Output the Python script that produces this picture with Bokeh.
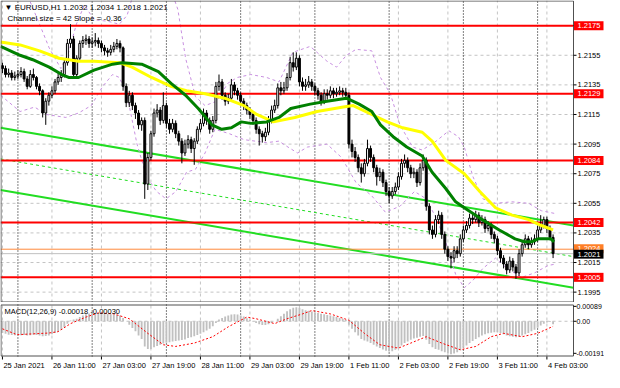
from bokeh.plotting import figure
from bokeh.layouts import column
from bokeh.models import Range1d, Label
from bokeh.core.properties import value
from bokeh.embed import file_html
from bokeh.resources import INLINE

FONT = "Liberation Sans"

title_text = "\u25BC EURUSD,H1  1.2032 1.2034 1.2018 1.2021"
channel_text = "Channel size = 42 Slope = -0.36"
macd_text = "MACD(12,26,9) -0.00018 -0.00030"

time_ticks = [0, 16, 32, 48, 64, 80, 96, 112, 128, 144, 160, 176]
time_labels = ["25 Jan 2021", "26 Jan 11:00", "27 Jan 03:00", "27 Jan 19:00", "28 Jan 11:00",
               "29 Jan 03:00", "29 Jan 19:00", "1 Feb 11:00", "2 Feb 03:00", "2 Feb 19:00",
               "3 Feb 11:00", "4 Feb 03:00"]
day_separators = [5, 29, 53, 77, 101, 125, 149, 173]
price_ticks = [1.1995, 1.2015, 1.2035, 1.2055, 1.2075, 1.2095, 1.2115, 1.2135, 1.2155, 1.2175]
macd_ticks = [-0.00191, 0.0, 0.00089]
macd_tick_labels = ["-0.00191", "0.00", "0.00089"]

red_levels = [1.2175, 1.2129, 1.2084, 1.2042, 1.2005]
orange_level = 1.2024
bid_level = 1.2021

first_open = 1.2148
close = [1.2146, 1.2142, 1.2143, 1.2140, 1.2141, 1.2142, 1.2144, 1.2139, 1.2134, 1.2142,
         1.2140, 1.2134, 1.2131, 1.2116, 1.2124, 1.2128, 1.2131, 1.2137, 1.2140, 1.2142,
         1.2150, 1.2163, 1.2166, 1.2142, 1.2153, 1.2163, 1.2165, 1.2166, 1.2163, 1.2164,
         1.2165, 1.2163, 1.2160, 1.2158, 1.2157, 1.2159, 1.2161, 1.2163, 1.2160, 1.2134,
         1.2123, 1.2128, 1.2121, 1.2116, 1.2108, 1.2111, 1.2068, 1.2086, 1.2102, 1.2116,
         1.2118, 1.2111, 1.2121, 1.2109, 1.2105, 1.2109, 1.2102, 1.2097, 1.2089, 1.2095,
         1.2098, 1.2092, 1.2097, 1.2105, 1.2109, 1.2116, 1.2111, 1.2105, 1.2111, 1.2134,
         1.2137, 1.2128, 1.2124, 1.2126, 1.2135, 1.2131, 1.2128, 1.2124, 1.2121, 1.2118,
         1.2115, 1.2111, 1.2105, 1.2102, 1.2100, 1.2103, 1.2111, 1.2118, 1.2121, 1.2133,
         1.2131, 1.2133, 1.2140, 1.2150, 1.2147, 1.2153, 1.2137, 1.2134, 1.2135, 1.2137,
         1.2134, 1.2131, 1.2128, 1.2124, 1.2129, 1.2128, 1.2131, 1.2129, 1.2130, 1.2131,
         1.2130, 1.2128, 1.2095, 1.2090, 1.2086, 1.2079, 1.2075, 1.2082, 1.2092, 1.2086,
         1.2079, 1.2073, 1.2076, 1.2069, 1.2063, 1.2060, 1.2063, 1.2066, 1.2073, 1.2082,
         1.2084, 1.2079, 1.2075, 1.2076, 1.2069, 1.2079, 1.2084, 1.2053, 1.2037, 1.2034,
         1.2044, 1.2047, 1.2034, 1.2024, 1.2019, 1.2018, 1.2023, 1.2021, 1.2031, 1.2037,
         1.2040, 1.2045, 1.2044, 1.2047, 1.2042, 1.2044, 1.2038, 1.2040, 1.2034, 1.2031,
         1.2023, 1.2018, 1.2014, 1.2010, 1.2016, 1.2012, 1.2008, 1.2021, 1.2027, 1.2031,
         1.2027, 1.2029, 1.2031, 1.2037, 1.2040, 1.2044, 1.2038, 1.2032, 1.2021]
high = [1.2150, 1.2148, 1.2146, 1.2145, 1.2144, 1.2145, 1.2147, 1.2146, 1.2141, 1.2145,
        1.2146, 1.2141, 1.2136, 1.2132, 1.2126, 1.2130, 1.2134, 1.2139, 1.2143, 1.2145,
        1.2153, 1.2166, 1.2176, 1.2168, 1.2155, 1.2165, 1.2168, 1.2169, 1.2168, 1.2167,
        1.2170, 1.2167, 1.2165, 1.2162, 1.2160, 1.2162, 1.2164, 1.2166, 1.2165, 1.2161,
        1.2136, 1.2131, 1.2130, 1.2123, 1.2118, 1.2113, 1.2113, 1.2089, 1.2104, 1.2119,
        1.2122, 1.2120, 1.2130, 1.2123, 1.2112, 1.2112, 1.2111, 1.2104, 1.2099, 1.2098,
        1.2101, 1.2100, 1.2099, 1.2107, 1.2112, 1.2119, 1.2118, 1.2113, 1.2114, 1.2137,
        1.2142, 1.2139, 1.2130, 1.2129, 1.2139, 1.2137, 1.2133, 1.2130, 1.2126, 1.2123,
        1.2120, 1.2117, 1.2113, 1.2107, 1.2104, 1.2106, 1.2114, 1.2121, 1.2125, 1.2136,
        1.2137, 1.2137, 1.2143, 1.2154, 1.2157, 1.2157, 1.2155, 1.2140, 1.2139, 1.2141,
        1.2139, 1.2136, 1.2133, 1.2130, 1.2132, 1.2132, 1.2134, 1.2133, 1.2133, 1.2134,
        1.2133, 1.2133, 1.2130, 1.2098, 1.2093, 1.2088, 1.2082, 1.2085, 1.2098, 1.2094,
        1.2088, 1.2081, 1.2079, 1.2078, 1.2071, 1.2066, 1.2066, 1.2069, 1.2076, 1.2085,
        1.2088, 1.2086, 1.2081, 1.2079, 1.2078, 1.2082, 1.2088, 1.2086, 1.2055, 1.2040,
        1.2047, 1.2050, 1.2049, 1.2036, 1.2026, 1.2022, 1.2026, 1.2026, 1.2034, 1.2040,
        1.2043, 1.2048, 1.2048, 1.2050, 1.2049, 1.2047, 1.2046, 1.2043, 1.2042, 1.2036,
        1.2033, 1.2025, 1.2020, 1.2016, 1.2019, 1.2018, 1.2014, 1.2024, 1.2030, 1.2034,
        1.2033, 1.2032, 1.2034, 1.2040, 1.2047, 1.2046, 1.2046, 1.2040, 1.2034]
low = [1.2143, 1.2140, 1.2140, 1.2138, 1.2138, 1.2139, 1.2140, 1.2137, 1.2132, 1.2133,
       1.2138, 1.2132, 1.2128, 1.2113, 1.2108, 1.2121, 1.2126, 1.2129, 1.2135, 1.2137,
       1.2140, 1.2148, 1.2160, 1.2140, 1.2140, 1.2151, 1.2160, 1.2162, 1.2160, 1.2160,
       1.2161, 1.2160, 1.2157, 1.2155, 1.2154, 1.2155, 1.2157, 1.2159, 1.2157, 1.2131,
       1.2120, 1.2120, 1.2118, 1.2112, 1.2105, 1.2104, 1.2058, 1.2064, 1.2084, 1.2100,
       1.2113, 1.2108, 1.2109, 1.2106, 1.2102, 1.2103, 1.2099, 1.2094, 1.2082, 1.2087,
       1.2092, 1.2089, 1.2081, 1.2095, 1.2103, 1.2107, 1.2108, 1.2102, 1.2103, 1.2109,
       1.2131, 1.2125, 1.2121, 1.2122, 1.2124, 1.2128, 1.2125, 1.2121, 1.2118, 1.2115,
       1.2112, 1.2108, 1.2102, 1.2094, 1.2096, 1.2097, 1.2101, 1.2109, 1.2116, 1.2119,
       1.2128, 1.2129, 1.2131, 1.2138, 1.2144, 1.2145, 1.2134, 1.2131, 1.2131, 1.2133,
       1.2131, 1.2128, 1.2125, 1.2121, 1.2122, 1.2125, 1.2126, 1.2126, 1.2127, 1.2128,
       1.2127, 1.2125, 1.2092, 1.2086, 1.2083, 1.2076, 1.2069, 1.2073, 1.2080, 1.2083,
       1.2076, 1.2067, 1.2070, 1.2066, 1.2060, 1.2055, 1.2058, 1.2061, 1.2064, 1.2071,
       1.2079, 1.2076, 1.2072, 1.2072, 1.2066, 1.2067, 1.2077, 1.2050, 1.2034, 1.2031,
       1.2032, 1.2041, 1.2031, 1.2021, 1.2016, 1.2011, 1.2015, 1.2018, 1.2019, 1.2029,
       1.2035, 1.2038, 1.2041, 1.2042, 1.2039, 1.2040, 1.2035, 1.2036, 1.2031, 1.2028,
       1.2020, 1.2015, 1.2011, 1.2007, 1.2008, 1.2009, 1.2004, 1.2006, 1.2019, 1.2025,
       1.2024, 1.2025, 1.2027, 1.2029, 1.2035, 1.2038, 1.2035, 1.2030, 1.2018]

yellow_x = [-0.6, 5.7, 12.0, 18.3, 24.6, 29.6, 37.8, 41.9, 48.2, 54.5, 59.5, 65.5, 71.8, 78.1, 82.2,
            87.6, 94.5, 101.7, 110.2, 113.4, 119.4, 124.4, 129.4, 135.7, 138.9, 143.3, 149.3, 154.3,
            159.4, 164.7, 170.1, 174.2, 178.0]
yellow_y = [1.2164, 1.2162, 1.2158, 1.2153, 1.2151, 1.2151, 1.2150, 1.2147, 1.2140, 1.2134, 1.2131,
            1.2129, 1.2126, 1.2121, 1.2115, 1.2110, 1.2113, 1.2117, 1.2120, 1.2121, 1.2115, 1.2110,
            1.2106, 1.2103, 1.2097, 1.2084, 1.2075, 1.2063, 1.2052, 1.2047, 1.2044, 1.2040, 1.2037]

green_x = [-0.6, 5.7, 9.8, 15.1, 19.2, 21.4, 24.6, 29.6, 35.6, 38.7, 45.0, 50.4, 54.5, 59.2, 63.3,
           67.7, 70.9, 74.0, 77.2, 80.3, 85.4, 89.4, 93.2, 99.5, 104.9, 111.2, 115.3, 119.4, 122.2,
           126.3, 130.7, 135.7, 138.9, 143.3, 146.5, 149.3, 154.3, 160.6, 165.7, 168.8, 171.0, 173.2,
           177.3, 178.3]
green_y = [1.2161, 1.2155, 1.2152, 1.2147, 1.2142, 1.2140, 1.2140, 1.2145, 1.2149, 1.2150, 1.2149,
           1.2144, 1.2136, 1.2128, 1.2119, 1.2108, 1.2105, 1.2106, 1.2110, 1.2109, 1.2110, 1.2113,
           1.2119, 1.2122, 1.2124, 1.2126, 1.2122, 1.2117, 1.2108, 1.2100, 1.2093, 1.2087, 1.2076,
           1.2065, 1.2056, 1.2052, 1.2045, 1.2037, 1.2031, 1.2029, 1.2029, 1.2031, 1.2031, 1.2029]

band_up_x = [-0.6, 4.1, 8.8, 12.0, 15.1, 18.9, 21.4, 23.9, 26.5, 29.6, 34.0, 37.8, 40.3, 43.5, 49.8,
             54.5, 56.7, 59.2, 62.4, 65.5, 69.3, 72.8, 75.9, 80.3, 85.4, 89.4, 93.9, 99.5, 104.9,
             108.0, 111.2, 114.3, 119.4, 122.2, 125.4, 128.5, 132.6, 135.7, 140.2, 144.3, 147.4,
             149.3, 152.1, 155.3, 159.4, 164.7, 170.1, 174.2, 178.9]
band_up_y = [1.2231, 1.2212, 1.2192, 1.2176, 1.2160, 1.2146, 1.2157, 1.2176, 1.2189, 1.2179, 1.2178,
             1.2176, 1.2182, 1.2205, 1.2224, 1.2199, 1.2186, 1.2153, 1.2127, 1.2121, 1.2124, 1.2136,
             1.2140, 1.2142, 1.2140, 1.2137, 1.2157, 1.2161, 1.2151, 1.2147, 1.2155, 1.2159, 1.2158,
             1.2140, 1.2129, 1.2108, 1.2093, 1.2091, 1.2097, 1.2104, 1.2100, 1.2093, 1.2073, 1.2058,
             1.2055, 1.2056, 1.2055, 1.2050, 1.2048]
band_lo_x = [-0.6, 5.7, 10.4, 14.2, 20.5, 24.6, 28.7, 32.4, 35.6, 37.8, 40.3, 43.5, 46.6, 49.8,
             52.9, 56.1, 59.5, 62.4, 65.5, 68.7, 73.4, 78.1, 85.4, 89.4, 92.3, 95.4, 98.6, 104.9,
             109.6, 114.3, 119.4, 123.8, 128.5, 133.2, 137.0, 140.2, 143.3, 146.5, 149.3, 152.1,
             155.3, 159.4, 163.1, 167.9, 172.0, 176.4, 178.9]
band_lo_y = [1.2128, 1.2117, 1.2120, 1.2115, 1.2113, 1.2116, 1.2121, 1.2134, 1.2142, 1.2140, 1.2128,
             1.2095, 1.2073, 1.2063, 1.2058, 1.2063, 1.2076, 1.2078, 1.2089, 1.2105, 1.2102, 1.2098,
             1.2096, 1.2097, 1.2093, 1.2089, 1.2093, 1.2095, 1.2086, 1.2069, 1.2060, 1.2049, 1.2053,
             1.2063, 1.2058, 1.2045, 1.2029, 1.2007, 1.1998, 1.2003, 1.2011, 1.2018, 1.2011, 1.2005,
             1.2008, 1.2013, 1.2014]

channel_x = [-0.63, 184.6]
channel_upper = [1.2106, 1.2040]
channel_mid = [1.2085, 1.2019]
channel_lower = [1.2064, 1.1998]

macd_hist = [-0.00070, -0.00075, -0.00080, -0.00082, -0.00084, -0.00085, -0.00084, -0.00082, -0.00085, -0.00083,
             -0.00080, -0.00082, -0.00085, -0.00090, -0.00088, -0.00085, -0.00078, -0.00070, -0.00060, -0.00050,
             -0.00035, -0.00015, 0.00005, 0.00010, 0.00015, 0.00025, 0.00035, 0.00042, 0.00046, 0.00048,
             0.00050, 0.00050, 0.00048, 0.00046, 0.00044, 0.00042, 0.00040, 0.00038, 0.00035, 0.00020,
             0.00000, -0.00020, -0.00040, -0.00060, -0.00085, -0.00105, -0.00150, -0.00165, -0.00165, -0.00155,
             -0.00148, -0.00140, -0.00132, -0.00128, -0.00125, -0.00120, -0.00118, -0.00115, -0.00112, -0.00108,
             -0.00100, -0.00095, -0.00090, -0.00082, -0.00075, -0.00065, -0.00055, -0.00045, -0.00030, -0.00010,
             0.00010, 0.00020, 0.00028, 0.00035, 0.00040, 0.00042, 0.00040, 0.00035, 0.00028, 0.00018,
             0.00008, -0.00002, -0.00010, -0.00018, -0.00022, -0.00022, -0.00018, -0.00010, 0.00000, 0.00015,
             0.00030, 0.00045, 0.00060, 0.00072, 0.00080, 0.00083, 0.00080, 0.00072, 0.00066, 0.00062,
             0.00058, 0.00054, 0.00050, 0.00045, 0.00042, 0.00038, 0.00035, 0.00030, 0.00026, 0.00020,
             0.00015, 0.00008, -0.00020, -0.00045, -0.00065, -0.00085, -0.00105, -0.00115, -0.00120, -0.00130,
             -0.00140, -0.00150, -0.00160, -0.00168, -0.00175, -0.00180, -0.00178, -0.00170, -0.00160, -0.00145,
             -0.00130, -0.00120, -0.00110, -0.00102, -0.00098, -0.00092, -0.00088, -0.00110, -0.00135, -0.00155,
             -0.00165, -0.00170, -0.00178, -0.00185, -0.00192, -0.00196, -0.00192, -0.00185, -0.00172, -0.00158,
             -0.00145, -0.00130, -0.00118, -0.00105, -0.00095, -0.00085, -0.00078, -0.00072, -0.00068, -0.00065,
             -0.00065, -0.00070, -0.00078, -0.00085, -0.00090, -0.00092, -0.00095, -0.00092, -0.00085, -0.00078,
             -0.00070, -0.00060, -0.00050, -0.00038, -0.00025, -0.00015, -0.00008, -0.00005, -0.00018]
signal_x = [0, 4.7, 15, 18, 22, 27, 31, 36, 41, 47, 52, 56, 62, 68, 73, 79, 82, 88, 92, 97, 100, 106,
            112, 117, 122, 128, 132, 137, 142, 148, 153, 158, 162, 168, 173, 178]
signal_y = [-0.00045, -0.00080, -0.00070, -0.00062, -0.00014, 0.00025, 0.00050, 0.00044, 0.00015,
            -0.00072, -0.00140, -0.00150, -0.00130, -0.00092, -0.00033, 0.00025, 0.00015, -0.00014,
            0.00015, 0.00044, 0.00064, 0.00044, 0.00006, -0.00072, -0.00140, -0.00160, -0.00130,
            -0.00092, -0.00130, -0.00170, -0.00150, -0.00092, -0.00072, -0.00092, -0.00072, -0.00030]

# ---------------------------------------------------------------- geometry
W = 604
MAIN_H = 302
PANEL_H, LABEL_H, TOP_PAD = 52, 16, 2
MACD_H = PANEL_H + LABEL_H + TOP_PAD
X0, X1 = -0.63, 184.6          # chart area (bars); price scale area lies to the right of X1
CHART_PX = 573
XR = X0 + (X1 - X0) * W / CHART_PX
Y0, Y1 = 1.1988, 1.2192
M0, M1 = -0.00210, 0.00100
GRID = "#c4c4c4"
BORDER = "#505050"
FS = "7.5px"
FSL = "8px"

n = len(close)
bars = list(range(n))
opens = [first_open] + close[:-1]
bull = [c >= o for o, c in zip(opens, close)]
px_x = (XR - X0) / W
py_main = (Y1 - Y0) / MAIN_H
py_macd = (M1 - M0) / PANEL_H

p = figure(width=W, height=MAIN_H, x_range=Range1d(X0, XR), y_range=Range1d(Y0, Y1),
           x_axis_location=None, y_axis_location=None, output_backend="svg",
           toolbar_location=None, min_border_left=0, min_border_top=0, min_border_bottom=0,
           min_border_right=0, background_fill_color="white", border_fill_color="white",
           outline_line_color=None)
p.xgrid.visible = False
p.ygrid.visible = False

# grid
p.segment(x0=time_ticks, x1=time_ticks, y0=[Y0] * len(time_ticks), y1=[Y1] * len(time_ticks),
          line_color=GRID, line_dash="3 3", line_width=1)
p.segment(x0=[X0] * len(price_ticks), x1=[X1] * len(price_ticks), y0=price_ticks, y1=price_ticks,
          line_color=GRID, line_dash="3 3", line_width=1)

# day separators
p.segment(x0=day_separators, x1=day_separators, y0=[Y0] * len(day_separators),
          y1=[Y1] * len(day_separators), line_color="black", line_dash="1 2", line_width=1)

# channel
p.line(channel_x, channel_upper, line_color="#22dd22", line_width=2)
p.line(channel_x, channel_lower, line_color="#22dd22", line_width=2)
p.line(channel_x, channel_mid, line_color="#22dd22", line_width=1, line_dash="3 3")

# bands
p.line(band_up_x, band_up_y, line_color="#c890e0", line_width=1, line_dash="3 3")
p.line(band_lo_x, band_lo_y, line_color="#c890e0", line_width=1, line_dash="3 3")

# horizontal levels
p.segment(x0=[X0] * 2, x1=[X1] * 2, y0=[orange_level, bid_level], y1=[orange_level, bid_level],
          line_color=["#ff8a3c", "#c0c0c0"], line_width=1)
p.segment(x0=[X0] * len(red_levels), x1=[X1] * len(red_levels), y0=red_levels, y1=red_levels,
          line_color="#ff0000", line_width=2)

# candles
p.segment(x0=bars, x1=bars, y0=low, y1=high, line_color="black", line_width=1)
tops = [max(o, c) for o, c in zip(opens, close)]
bots = [min(o, c) for o, c in zip(opens, close)]
fills = ["white" if b else "black" for b in bull]
p.vbar(x=bars, width=0.62, top=tops, bottom=bots, fill_color=fills, line_color="black", line_width=1)

# moving averages
p.line(yellow_x, yellow_y, line_color="#ffff00", line_width=3)
p.line(green_x, green_y, line_color="#008000", line_width=3)

# chart border
p.quad(left=[X0 + 0.5 * px_x], right=[X1], top=[Y1 - 0.5 * py_main], bottom=[Y0 + 0.5 * py_main],
       fill_color=None, line_color=BORDER, line_width=1)

# price scale
p.segment(x0=[X1] * len(price_ticks), x1=[X1 + 3 * px_x] * len(price_ticks), y0=price_ticks,
          y1=price_ticks, line_color="black", line_width=1)
p.text(x=[X1] * len(price_ticks), y=price_ticks, text=[f"{t:.4f}" for t in price_ticks],
       x_offset=4, text_baseline="middle", text_align="left", text_font=value(FONT),
       text_font_size=FS, text_color="black")


def price_box(levels, fill, dy_px=0.0):
    h = 4.5 * py_main
    ys = [lv + dy_px * py_main for lv in levels]
    p.quad(left=[X1 + 0.5 * px_x] * len(levels), right=[X1 + 30 * px_x] * len(levels),
           top=[y + h for y in ys], bottom=[y - h for y in ys], fill_color=fill, line_color=None)
    p.text(x=[X1] * len(levels), y=ys, text=[f"{lv:.4f}" for lv in levels], x_offset=4,
           text_baseline="middle", text_align="left", text_font=value(FONT),
           text_font_size=FS, text_color="white")


price_box(red_levels, "#ff0000")
price_box([orange_level], "#ff7f27", dy_px=0.5)
price_box([bid_level], "black", dy_px=-0.5)

# texts
p.add_layout(Label(x=X0, y=Y1, x_offset=4, y_offset=-2, text=title_text, text_baseline="top",
                   text_font=FONT, text_font_size=FSL, text_color="black"))
p.add_layout(Label(x=X0, y=Y1, x_offset=7, y_offset=-13, text=channel_text, text_baseline="top",
                   text_font=FONT, text_font_size=FSL, text_color="black"))

# ---------------------------------------------------------------- MACD panel + time scale
m = figure(width=W, height=MACD_H, x_range=p.x_range,
           y_range=Range1d(M0 - LABEL_H * py_macd, M1 + TOP_PAD * py_macd),
           x_axis_location=None, y_axis_location=None, output_backend="svg",
           toolbar_location=None, min_border_left=0, min_border_top=0, min_border_bottom=0,
           min_border_right=0, background_fill_color="white", border_fill_color="white",
           outline_line_color=None)
m.xgrid.visible = False
m.ygrid.visible = False

m.segment(x0=time_ticks, x1=time_ticks, y0=[M0] * len(time_ticks), y1=[M1] * len(time_ticks),
          line_color=GRID, line_dash="3 3", line_width=1)
m.segment(x0=[X0], x1=[X1], y0=[0.0], y1=[0.0], line_color=GRID, line_dash="3 3", line_width=1)
m.segment(x0=day_separators, x1=day_separators, y0=[M0] * len(day_separators),
          y1=[M1] * len(day_separators), line_color="black", line_dash="1 2", line_width=1)
m.vbar(x=bars, width=0.6, top=macd_hist, bottom=0, fill_color="#c0c0c0", line_color=None)
m.line(signal_x, signal_y, line_color="#ff0000", line_width=1, line_dash="2 2")
m.quad(left=[X0 + 0.5 * px_x], right=[X1], top=[M1 - 0.5 * py_macd], bottom=[M0 + 0.5 * py_macd],
       fill_color=None, line_color=BORDER, line_width=1)

# MACD value scale
m.segment(x0=[X1] * 3, x1=[X1 + 3 * px_x] * 3, y0=macd_ticks, y1=macd_ticks,
          line_color="black", line_width=1)
m.text(x=[X1] * 3, y=macd_ticks, text=macd_tick_labels, x_offset=3, text_baseline="middle",
       text_align="left", text_font=value(FONT), text_font_size="7px", text_color="black")
m.add_layout(Label(x=X0, y=M1, x_offset=4, y_offset=-2, text=macd_text, text_baseline="top",
                   text_font=FONT, text_font_size=FS, text_color="black"))

# time scale
m.segment(x0=time_ticks, x1=time_ticks, y0=[M0] * len(time_ticks),
          y1=[M0 - 3 * py_macd] * len(time_ticks), line_color="black", line_width=1)
m.text(x=time_ticks, y=[M0 - 4 * py_macd] * len(time_ticks), text=time_labels, x_offset=1,
       text_baseline="top", text_align="left", text_font=value(FONT), text_font_size=FS,
       text_color="black")

layout = column(p, m, spacing=0)
open("out.html", "w").write(file_html(layout, INLINE))
